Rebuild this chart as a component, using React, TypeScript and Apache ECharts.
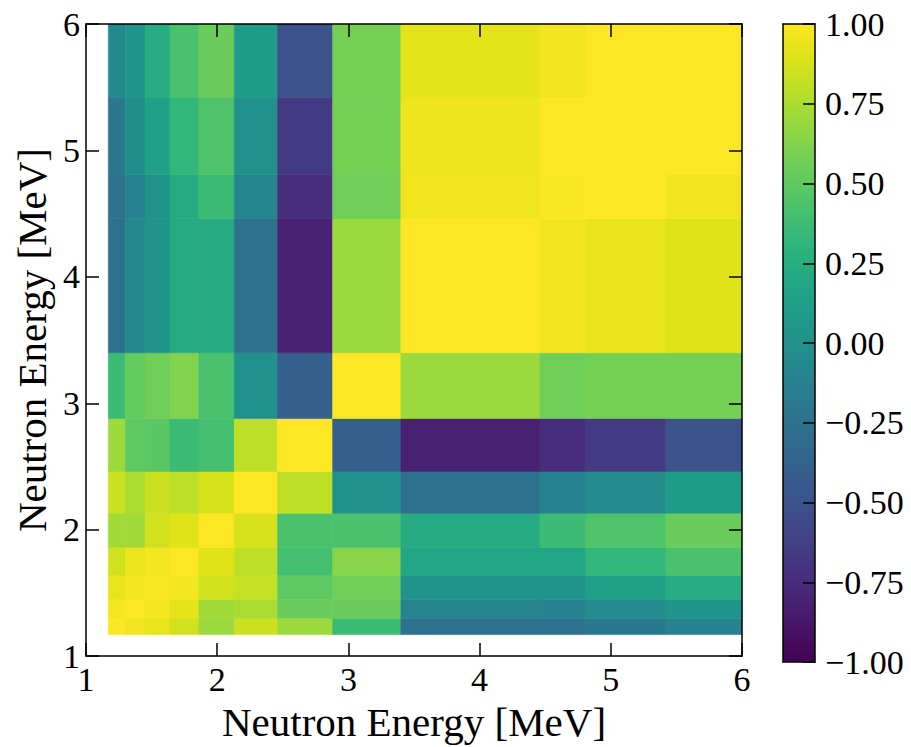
import React, { useEffect, useRef } from "react";
import * as echarts from "echarts";

// Energy bin edges (MeV), shared by both axes
const binEdges = [1.17, 1.3, 1.45, 1.64, 1.86, 2.13, 2.46, 2.88, 3.4, 4.46, 4.81, 5.42, 6.0];

// Correlation matrix: row 0 = lowest energy bin (bottom), columns left to right
const corrRows = [
  [1.0, 0.96, 0.93, 0.86, 0.7, 0.84, 0.7, 0.36, -0.26, -0.26, -0.2, -0.12],
  [0.97, 1.0, 0.97, 0.92, 0.72, 0.74, 0.54, 0.54, -0.1, -0.12, -0.04, 0.04],
  [0.93, 0.97, 0.99, 0.97, 0.86, 0.82, 0.5, 0.56, 0.02, 0.02, 0.14, 0.24],
  [0.86, 0.94, 0.97, 1.0, 0.9, 0.8, 0.4, 0.64, 0.18, 0.18, 0.32, 0.42],
  [0.72, 0.72, 0.86, 0.9, 1.0, 0.88, 0.42, 0.42, 0.22, 0.36, 0.44, 0.54],
  [0.84, 0.74, 0.84, 0.8, 0.88, 1.0, 0.8, 0.0, -0.26, -0.12, -0.04, 0.1],
  [0.7, 0.5, 0.48, 0.36, 0.4, 0.8, 1.0, -0.4, -0.82, -0.74, -0.66, -0.5],
  [0.36, 0.52, 0.56, 0.62, 0.42, 0.0, -0.4, 1.0, 0.7, 0.56, 0.58, 0.58],
  [-0.26, -0.06, 0.02, 0.22, 0.22, -0.26, -0.82, 0.7, 1.0, 0.96, 0.93, 0.9],
  [-0.26, -0.12, 0.02, 0.22, 0.36, -0.1, -0.74, 0.56, 0.96, 0.99, 1.0, 0.96],
  [-0.2, -0.02, 0.14, 0.32, 0.44, 0.0, -0.66, 0.58, 0.95, 1.0, 1.0, 1.0],
  [-0.06, 0.04, 0.24, 0.42, 0.54, 0.1, -0.5, 0.58, 0.92, 0.96, 1.0, 1.0],
];

const axisTicks = [1, 2, 3, 4, 5, 6];
const colorbarRange = [-1, 1];
const colorbarStep = 0.25;
const axisTitle = "Neutron Energy [MeV]";

const viridis = [
  "#440154", "#471365", "#482475", "#463480", "#414487", "#3b528b", "#355f8d",
  "#2f6c8e", "#2a788e", "#25848e", "#21918c", "#1e9c89", "#22a884", "#2fb47c",
  "#44bf70", "#5ec962", "#7ad151", "#9bd93c", "#bddf26", "#dfe318", "#fde725",
];

const FONT = '"Liberation Serif", "Times New Roman", serif';

export default function App() {
  const ref = useRef<HTMLDivElement>(null);

  useEffect(() => {
    if (!ref.current) return;
    const chart = echarts.init(ref.current, undefined, { renderer: "svg" });

    const cells: number[][] = [];
    corrRows.forEach((row, i) => {
      row.forEach((v, j) => {
        cells.push([binEdges[j], binEdges[j + 1], binEdges[i], binEdges[i + 1], v]);
      });
    });

    const lineStyle = { color: "#000", width: 1.5 };
    const axisLine = { show: true, onZero: false, lineStyle };
    const tickStyle = { show: true, inside: true, length: 13, lineStyle: { color: "#000", width: 1.5 } };
    const label = { fontFamily: FONT, fontSize: 34, color: "#000" };
    const fmt = (v: number) => (v < 0 ? "\u2212" : "") + Math.abs(v).toFixed(2);
    const xMin = axisTicks[0];
    const xMax = axisTicks[axisTicks.length - 1];

    const option: any = {
      animation: false,
      backgroundColor: "#fff",
      grid: [
        { left: 86, top: 24, width: 656, height: 638 },
        { left: 783, top: 24, width: 32, height: 638 },
      ],
      visualMap: {
        show: false,
        type: "continuous",
        min: colorbarRange[0],
        max: colorbarRange[1],
        dimension: 4,
        seriesIndex: 0,
        inRange: { color: viridis },
      },
      xAxis: [
        {
          gridIndex: 0, type: "value", position: "bottom", min: xMin, max: xMax, interval: 1, z: 10,
          axisLine, axisTick: tickStyle, splitLine: { show: false },
          axisLabel: { ...label, margin: 6 },
          name: axisTitle, nameLocation: "middle", nameGap: 40,
          nameTextStyle: { fontFamily: FONT, fontSize: 41, color: "#000" },
        },
        {
          gridIndex: 0, type: "value", position: "top", min: xMin, max: xMax, interval: 1, z: 10,
          axisLine, axisTick: tickStyle, splitLine: { show: false }, axisLabel: { show: false },
        },
        {
          gridIndex: 1, type: "value", position: "bottom", min: 0, max: 1, z: 10,
          axisLine, axisTick: { show: false }, splitLine: { show: false }, axisLabel: { show: false },
        },
        {
          gridIndex: 1, type: "value", position: "top", min: 0, max: 1, z: 10,
          axisLine, axisTick: { show: false }, splitLine: { show: false }, axisLabel: { show: false },
        },
      ],
      yAxis: [
        {
          gridIndex: 0, type: "value", position: "left", min: xMin, max: xMax, interval: 1, z: 10,
          axisLine, axisTick: tickStyle, splitLine: { show: false },
          axisLabel: { ...label, margin: 6 },
          name: axisTitle, nameLocation: "middle", nameGap: 30,
          nameTextStyle: { fontFamily: FONT, fontSize: 41, color: "#000" },
        },
        {
          gridIndex: 0, type: "value", position: "right", min: xMin, max: xMax, interval: 1, z: 10,
          axisLine, axisTick: tickStyle, splitLine: { show: false }, axisLabel: { show: false },
        },
        {
          gridIndex: 1, type: "value", position: "left", min: colorbarRange[0], max: colorbarRange[1], z: 10,
          axisLine, axisTick: { show: false }, splitLine: { show: false }, axisLabel: { show: false },
        },
        {
          gridIndex: 1, type: "value", position: "right", min: colorbarRange[0], max: colorbarRange[1], interval: colorbarStep, z: 10,
          axisLine, splitLine: { show: false },
          axisTick: { show: true, inside: true, length: 12, lineStyle: { color: "#000", width: 1.5 } },
          axisLabel: { ...label, margin: 10, formatter: fmt },
        },
      ],
      series: [
        {
          type: "custom",
          xAxisIndex: 0,
          yAxisIndex: 0,
          clip: true,
          encode: { x: [0, 1], y: [2, 3] },
          data: cells,
          renderItem: (params: any, api: any) => {
            const p0 = api.coord([api.value(0), api.value(3)]);
            const p1 = api.coord([api.value(1), api.value(2)]);
            const c = api.visual("color");
            return {
              type: "rect",
              shape: { x: p0[0], y: p0[1], width: p1[0] - p0[0], height: p1[1] - p0[1] },
              style: { fill: c, stroke: c, lineWidth: 0.6 },
            };
          },
        },
        {
          type: "custom",
          xAxisIndex: 2,
          yAxisIndex: 2,
          data: [[0, 1, colorbarRange[0], colorbarRange[1]]],
          encode: { x: [0, 1], y: [2, 3] },
          renderItem: (params: any, api: any) => {
            const p0 = api.coord([api.value(0), api.value(3)]);
            const p1 = api.coord([api.value(1), api.value(2)]);
            const stops = viridis.map((c, k) => ({ offset: k / (viridis.length - 1), color: c }));
            return {
              type: "rect",
              shape: { x: p0[0], y: p0[1], width: p1[0] - p0[0], height: p1[1] - p0[1] },
              style: { fill: new echarts.graphic.LinearGradient(0, 1, 0, 0, stops) },
            };
          },
        },
      ],
    };

    chart.setOption(option);
    return () => chart.dispose();
  }, []);

  return (
    <div
      ref={ref}
      style={{ position: "fixed", left: 0, top: 0, width: 911, height: 747, background: "#fff" }}
    />
  );
}
